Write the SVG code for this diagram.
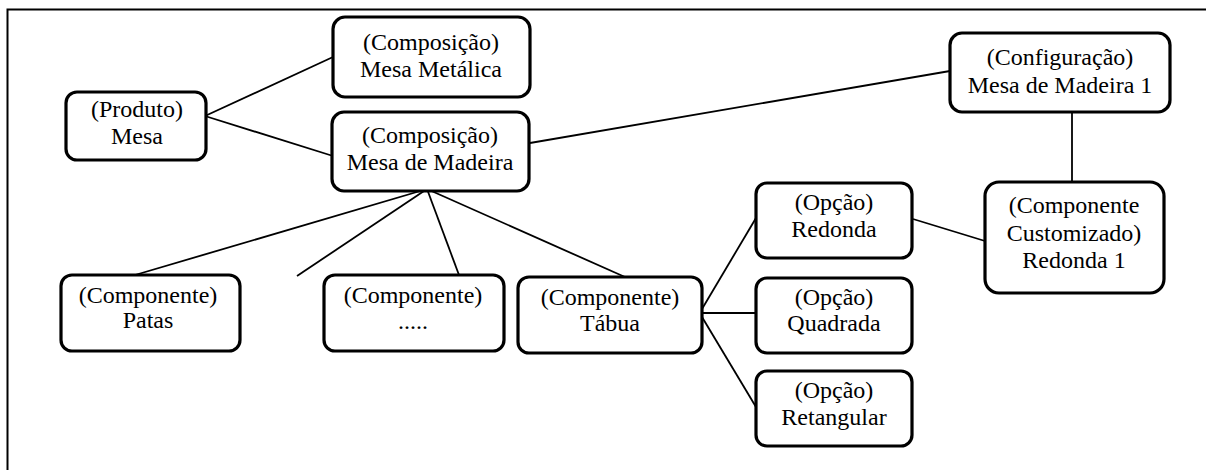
<svg xmlns="http://www.w3.org/2000/svg" width="1206" height="470" viewBox="0 0 1206 470">
<style>
.box{fill:#fff;stroke:#000;stroke-width:3.2}
.t{font-family:"Liberation Serif","Times New Roman",serif;font-size:24px;fill:#000;text-anchor:middle}
.c{stroke:#000;stroke-width:1.8;fill:none}
.frame{stroke:#000;stroke-width:2;fill:none}
</style>
<rect width="1206" height="470" fill="#fff"/>
<path class="frame" d="M7.5,470 V9.5 H1206"/>
<g id="connectors">
<line class="c" x1="205" y1="116" x2="333" y2="57"/>
<line class="c" x1="205" y1="116" x2="333" y2="156"/>
<line class="c" x1="530" y1="143" x2="950" y2="71"/>
<line class="c" x1="1072" y1="112" x2="1072" y2="182"/>
<line class="c" x1="913" y1="219" x2="985" y2="241"/>
<line class="c" x1="427" y1="189" x2="135" y2="275"/>
<line class="c" x1="427" y1="189" x2="297" y2="276"/>
<line class="c" x1="427" y1="189" x2="459" y2="275"/>
<line class="c" x1="427" y1="189" x2="625" y2="277"/>
<line class="c" x1="702" y1="309" x2="756" y2="218"/>
<line class="c" x1="702" y1="313" x2="756" y2="313"/>
<line class="c" x1="702" y1="317" x2="756" y2="407"/>
</g>
<g id="produto"><rect class="box" x="66" y="92" width="140" height="68" rx="11"/><text class="t" x="137" y="117">(Produto)</text><text class="t" x="137" y="144">Mesa</text></g>
<g id="metalica"><rect class="box" x="333" y="17" width="197" height="80" rx="12"/><text class="t" x="431" y="50">(Composição)</text><text class="t" x="431" y="77">Mesa Metálica</text></g>
<g id="madeira"><rect class="box" x="332" y="112" width="197" height="79" rx="12"/><text class="t" x="430" y="143">(Composição)</text><text class="t" x="430" y="170">Mesa de Madeira</text></g>
<g id="configuracao"><rect class="box" x="950" y="33" width="220" height="79" rx="12"/><text class="t" x="1060" y="65">(Configuração)</text><text class="t" x="1060" y="93">Mesa de Madeira 1</text></g>
<g id="customizado"><rect class="box" x="985" y="182" width="179" height="111" rx="14"/><text class="t" x="1074" y="213">(Componente</text><text class="t" x="1074" y="241">Customizado)</text><text class="t" x="1074" y="268">Redonda 1</text></g>
<g id="redonda"><rect class="box" x="756" y="183" width="156" height="75" rx="11"/><text class="t" x="834" y="210">(Opção)</text><text class="t" x="834" y="237">Redonda</text></g>
<g id="quadrada"><rect class="box" x="756" y="278" width="156" height="75" rx="11"/><text class="t" x="834" y="305">(Opção)</text><text class="t" x="834" y="331">Quadrada</text></g>
<g id="retangular"><rect class="box" x="756" y="371" width="156" height="75" rx="11"/><text class="t" x="834" y="398">(Opção)</text><text class="t" x="834" y="425">Retangular</text></g>
<g id="tabua"><rect class="box" x="518" y="277" width="184" height="76" rx="11"/><text class="t" x="610" y="305">(Componente)</text><text class="t" x="610" y="331">Tábua</text></g>
<g id="patas"><rect class="box" x="61" y="275" width="179" height="76" rx="11"/><text class="t" x="148" y="303">(Componente)</text><text class="t" x="148" y="328">Patas</text></g>
<g id="outros"><rect class="box" x="324" y="275" width="180" height="76" rx="11"/><text class="t" x="413" y="303">(Componente)</text><text class="t" x="413" y="329">.....</text></g>
</svg>
